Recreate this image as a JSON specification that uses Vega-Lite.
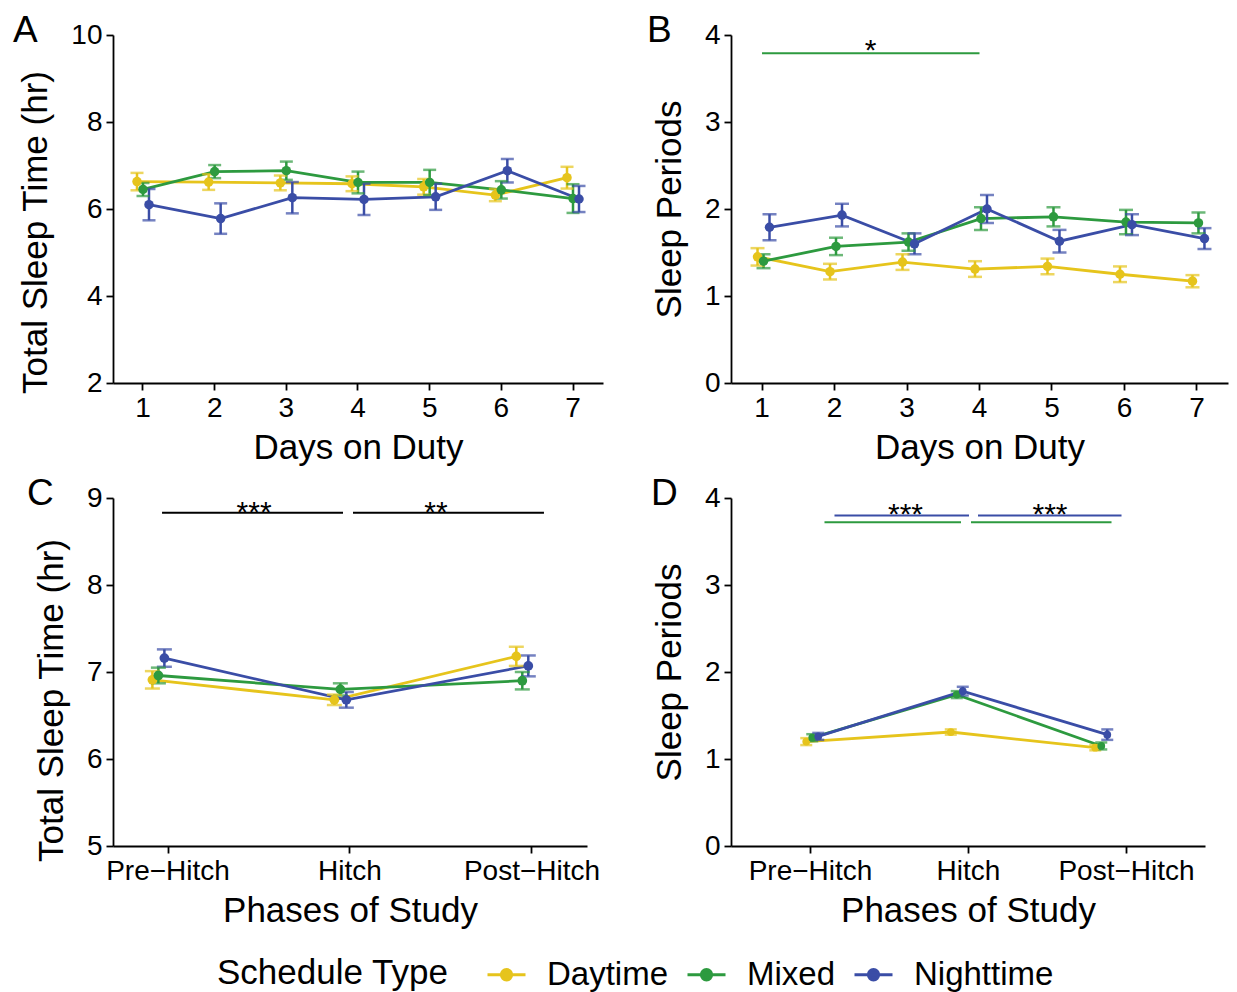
{
  "$schema": "https://vega.github.io/schema/vega-lite/v6.json",
  "padding": {"left": 13, "top": 12, "right": 5, "bottom": 2},
  "background": "white",
  "bounds": "flush",
  "columns": 2,
  "spacing": {"row": 115, "column": 128},
  "datasets": {
    "A": [
      {"day": 1, "type": "Daytime", "mean": 6.63, "lower": 6.43, "upper": 6.83},
      {"day": 2, "type": "Daytime", "mean": 6.62, "lower": 6.44, "upper": 6.80},
      {"day": 3, "type": "Daytime", "mean": 6.60, "lower": 6.43, "upper": 6.77},
      {"day": 4, "type": "Daytime", "mean": 6.58, "lower": 6.41, "upper": 6.75},
      {"day": 5, "type": "Daytime", "mean": 6.51, "lower": 6.33, "upper": 6.69},
      {"day": 6, "type": "Daytime", "mean": 6.32, "lower": 6.18, "upper": 6.46},
      {"day": 7, "type": "Daytime", "mean": 6.72, "lower": 6.47, "upper": 6.97},
      {"day": 1, "type": "Mixed", "mean": 6.45, "lower": 6.30, "upper": 6.60},
      {"day": 2, "type": "Mixed", "mean": 6.86, "lower": 6.71, "upper": 7.01},
      {"day": 3, "type": "Mixed", "mean": 6.88, "lower": 6.67, "upper": 7.09},
      {"day": 4, "type": "Mixed", "mean": 6.61, "lower": 6.36, "upper": 6.86},
      {"day": 5, "type": "Mixed", "mean": 6.61, "lower": 6.32, "upper": 6.90},
      {"day": 6, "type": "Mixed", "mean": 6.44, "lower": 6.24, "upper": 6.64},
      {"day": 7, "type": "Mixed", "mean": 6.24, "lower": 5.91, "upper": 6.57},
      {"day": 1, "type": "Nighttime", "mean": 6.10, "lower": 5.74, "upper": 6.46},
      {"day": 2, "type": "Nighttime", "mean": 5.78, "lower": 5.43, "upper": 6.13},
      {"day": 3, "type": "Nighttime", "mean": 6.26, "lower": 5.90, "upper": 6.62},
      {"day": 4, "type": "Nighttime", "mean": 6.22, "lower": 5.86, "upper": 6.58},
      {"day": 5, "type": "Nighttime", "mean": 6.28, "lower": 5.98, "upper": 6.58},
      {"day": 6, "type": "Nighttime", "mean": 6.88, "lower": 6.61, "upper": 7.15},
      {"day": 7, "type": "Nighttime", "mean": 6.23, "lower": 5.93, "upper": 6.53}
    ],
    "B": [
      {"day": 1, "type": "Daytime", "mean": 1.45, "lower": 1.35, "upper": 1.55},
      {"day": 2, "type": "Daytime", "mean": 1.28, "lower": 1.19, "upper": 1.37},
      {"day": 3, "type": "Daytime", "mean": 1.39, "lower": 1.30, "upper": 1.48},
      {"day": 4, "type": "Daytime", "mean": 1.31, "lower": 1.22, "upper": 1.40},
      {"day": 5, "type": "Daytime", "mean": 1.34, "lower": 1.25, "upper": 1.43},
      {"day": 6, "type": "Daytime", "mean": 1.25, "lower": 1.16, "upper": 1.34},
      {"day": 7, "type": "Daytime", "mean": 1.17, "lower": 1.10, "upper": 1.24},
      {"day": 1, "type": "Mixed", "mean": 1.40, "lower": 1.32, "upper": 1.48},
      {"day": 2, "type": "Mixed", "mean": 1.57, "lower": 1.47, "upper": 1.67},
      {"day": 3, "type": "Mixed", "mean": 1.62, "lower": 1.52, "upper": 1.72},
      {"day": 4, "type": "Mixed", "mean": 1.89, "lower": 1.76, "upper": 2.02},
      {"day": 5, "type": "Mixed", "mean": 1.91, "lower": 1.80, "upper": 2.02},
      {"day": 6, "type": "Mixed", "mean": 1.85, "lower": 1.71, "upper": 1.99},
      {"day": 7, "type": "Mixed", "mean": 1.84, "lower": 1.72, "upper": 1.96},
      {"day": 1, "type": "Nighttime", "mean": 1.79, "lower": 1.64, "upper": 1.94},
      {"day": 2, "type": "Nighttime", "mean": 1.93, "lower": 1.80, "upper": 2.06},
      {"day": 3, "type": "Nighttime", "mean": 1.60, "lower": 1.48, "upper": 1.72},
      {"day": 4, "type": "Nighttime", "mean": 2.00, "lower": 1.84, "upper": 2.16},
      {"day": 5, "type": "Nighttime", "mean": 1.63, "lower": 1.50, "upper": 1.76},
      {"day": 6, "type": "Nighttime", "mean": 1.82, "lower": 1.70, "upper": 1.94},
      {"day": 7, "type": "Nighttime", "mean": 1.66, "lower": 1.54, "upper": 1.78}
    ],
    "C": [
      {"phase": "Pre−Hitch", "type": "Daytime", "mean": 6.91, "lower": 6.81, "upper": 7.01},
      {"phase": "Hitch", "type": "Daytime", "mean": 6.68, "lower": 6.62, "upper": 6.74},
      {"phase": "Post−Hitch", "type": "Daytime", "mean": 7.18, "lower": 7.07, "upper": 7.29},
      {"phase": "Pre−Hitch", "type": "Mixed", "mean": 6.96, "lower": 6.87, "upper": 7.05},
      {"phase": "Hitch", "type": "Mixed", "mean": 6.80, "lower": 6.73, "upper": 6.87},
      {"phase": "Post−Hitch", "type": "Mixed", "mean": 6.90, "lower": 6.80, "upper": 7.00},
      {"phase": "Pre−Hitch", "type": "Nighttime", "mean": 7.16, "lower": 7.06, "upper": 7.26},
      {"phase": "Hitch", "type": "Nighttime", "mean": 6.68, "lower": 6.59, "upper": 6.77},
      {"phase": "Post−Hitch", "type": "Nighttime", "mean": 7.07, "lower": 6.95, "upper": 7.19}
    ],
    "D": [
      {"phase": "Pre−Hitch", "type": "Daytime", "mean": 1.20, "lower": 1.16, "upper": 1.24},
      {"phase": "Hitch", "type": "Daytime", "mean": 1.31, "lower": 1.28, "upper": 1.34},
      {"phase": "Post−Hitch", "type": "Daytime", "mean": 1.13, "lower": 1.10, "upper": 1.16},
      {"phase": "Pre−Hitch", "type": "Mixed", "mean": 1.245, "lower": 1.205, "upper": 1.285},
      {"phase": "Hitch", "type": "Mixed", "mean": 1.74, "lower": 1.70, "upper": 1.78},
      {"phase": "Post−Hitch", "type": "Mixed", "mean": 1.15, "lower": 1.11, "upper": 1.19},
      {"phase": "Pre−Hitch", "type": "Nighttime", "mean": 1.26, "lower": 1.22, "upper": 1.30},
      {"phase": "Hitch", "type": "Nighttime", "mean": 1.78, "lower": 1.73, "upper": 1.83},
      {"phase": "Post−Hitch", "type": "Nighttime", "mean": 1.28, "lower": 1.22, "upper": 1.34}
    ],
    "sigB": [
      {"from": 1, "to": 4, "mid": 2, "y": 3.79, "label": "*"}
    ],
    "sigC": [
      {"from": "Pre−Hitch", "to": "Hitch", "y": 8.83, "label": "***", "seg": 1},
      {"from": "Hitch", "to": "Post−Hitch", "y": 8.83, "label": "**", "seg": 2}
    ],
    "sigD": [
      {"type": "Nighttime", "from": "Pre−Hitch", "to": "Hitch", "y": 3.80, "seg": 1, "label": "***"},
      {"type": "Nighttime", "from": "Hitch", "to": "Post−Hitch", "y": 3.80, "seg": 2, "label": "***"},
      {"type": "Mixed", "from": "Pre−Hitch", "to": "Hitch", "y": 3.72, "seg": 1, "label": ""},
      {"type": "Mixed", "from": "Hitch", "to": "Post−Hitch", "y": 3.72, "seg": 2, "label": ""}
    ]
  },
  "concat": [
    {
      "width": 490,
      "height": 348,
      "title": {"text": "A", "anchor": "start", "frame": "group", "align": "left", "baseline": "alphabetic", "dx": -100, "dy": 58, "offset": 0, "fontSize": 37, "fontWeight": "normal", "font": "Liberation Sans", "color": "#000"},
      "data": {"name": "A"},
      "encoding": {
        "x": {"field": "day", "type": "ordinal", "title": "Days on Duty", "scale": {"paddingInner": 0.749, "paddingOuter": 0.293}, "axis": {"labelAngle": 0}},
        "xOffset": {"field": "type", "type": "nominal", "scale": {"domain": ["Daytime", "Mixed", "Nighttime"], "paddingInner": 0, "paddingOuter": 0}},
        "color": {"field": "type", "type": "nominal", "title": "Schedule Type", "scale": {"domain": ["Daytime", "Mixed", "Nighttime"], "range": ["#E6C41C", "#2D9A3F", "#3A4DA6"]},
          "legend": {"encode": {"symbols": {"update": {"fill": {"scale": "color", "field": "value"}, "stroke": {"scale": "color", "field": "value"}, "strokeWidth": {"value": 3}, "opacity": {"value": 1}}}}}}
      },
      "layer": [
        {"mark": {"type": "line", "strokeWidth": 2.8}, "encoding": {"y": {"field": "mean", "type": "quantitative", "title": "Total Sleep Time (hr)", "scale": {"domain": [2, 10], "nice": false, "zero": false}, "axis": {"values": [2, 4, 6, 8, 10], "format": "d", "titleY": 197}}}},
        {"mark": {"type": "rule", "strokeWidth": 2.5}, "encoding": {"y": {"field": "lower", "type": "quantitative", "title": "Total Sleep Time (hr)"}, "y2": {"field": "upper", "title": "Total Sleep Time (hr)"}}},
        {"mark": {"type": "tick", "orient": "horizontal", "size": 13, "thickness": 2.5}, "encoding": {"y": {"field": "lower", "type": "quantitative", "title": "Total Sleep Time (hr)"}}},
        {"mark": {"type": "tick", "orient": "horizontal", "size": 13, "thickness": 2.5}, "encoding": {"y": {"field": "upper", "type": "quantitative", "title": "Total Sleep Time (hr)"}}},
        {"mark": {"type": "point", "filled": true, "size": 90, "opacity": 1}, "encoding": {"y": {"field": "mean", "type": "quantitative", "title": "Total Sleep Time (hr)"}}}
      ]
    },
    {
      "width": 497,
      "height": 348,
      "title": {"text": "B", "anchor": "start", "frame": "group", "align": "left", "baseline": "alphabetic", "dx": -84, "dy": 58, "offset": 0, "fontSize": 37, "fontWeight": "normal", "font": "Liberation Sans", "color": "#000"},
      "layer": [
        {
          "data": {"name": "B"},
          "encoding": {
            "x": {"field": "day", "type": "ordinal", "title": "Days on Duty", "scale": {"paddingInner": 0.793, "paddingOuter": 0.3245}, "axis": {"labelAngle": 0}},
            "xOffset": {"field": "type", "type": "nominal", "scale": {"domain": ["Daytime", "Mixed", "Nighttime"], "paddingInner": 0, "paddingOuter": 0}},
            "color": {"field": "type", "type": "nominal", "title": "Schedule Type", "scale": {"domain": ["Daytime", "Mixed", "Nighttime"], "range": ["#E6C41C", "#2D9A3F", "#3A4DA6"]},
              "legend": {"encode": {"symbols": {"update": {"fill": {"scale": "color", "field": "value"}, "stroke": {"scale": "color", "field": "value"}, "strokeWidth": {"value": 3}, "opacity": {"value": 1}}}}}}
          },
          "layer": [
            {"mark": {"type": "line", "strokeWidth": 2.8}, "encoding": {"y": {"field": "mean", "type": "quantitative", "title": "Sleep Periods", "scale": {"domain": [0, 4], "nice": false, "zero": false}, "axis": {"values": [0, 1, 2, 3, 4], "format": "d"}}}},
            {"mark": {"type": "rule", "strokeWidth": 2.5}, "encoding": {"y": {"field": "lower", "type": "quantitative", "title": "Sleep Periods"}, "y2": {"field": "upper", "title": "Sleep Periods"}}},
            {"mark": {"type": "tick", "orient": "horizontal", "size": 14, "thickness": 2.5}, "encoding": {"y": {"field": "lower", "type": "quantitative", "title": "Sleep Periods"}}},
            {"mark": {"type": "tick", "orient": "horizontal", "size": 14, "thickness": 2.5}, "encoding": {"y": {"field": "upper", "type": "quantitative", "title": "Sleep Periods"}}},
            {"mark": {"type": "point", "filled": true, "size": 90, "opacity": 1}, "encoding": {"y": {"field": "mean", "type": "quantitative", "title": "Sleep Periods"}}}
          ]
        },
        {
          "data": {"name": "sigB"},
          "mark": {"type": "rule", "stroke": "#2D9A3F", "strokeWidth": 2},
          "encoding": {
            "x": {"field": "from", "type": "ordinal", "title": "Days on Duty", "bandPosition": 0.5},
            "x2": {"field": "to", "bandPosition": 0.5},
            "y": {"field": "y", "type": "quantitative", "title": "Sleep Periods"}
          }
        },
        {
          "data": {"name": "sigB"},
          "mark": {"type": "text", "font": "Liberation Sans", "fontSize": 30, "dx": 36, "dy": 7, "baseline": "alphabetic", "align": "center", "color": "#000"},
          "encoding": {
            "x": {"field": "mid", "type": "ordinal", "title": "Days on Duty"},
            "y": {"field": "y", "type": "quantitative", "title": "Sleep Periods"},
            "text": {"field": "label"}
          }
        }
      ]
    },
    {
      "width": 474,
      "height": 348,
      "title": {"text": "C", "anchor": "start", "frame": "group", "align": "left", "baseline": "alphabetic", "dx": -86, "dy": 58, "offset": 0, "fontSize": 37, "fontWeight": "normal", "font": "Liberation Sans", "color": "#000"},
      "layer": [
        {
          "data": {"name": "C"},
          "encoding": {
            "x": {"field": "phase", "type": "ordinal", "title": "Phases of Study", "scale": {"domain": ["Pre−Hitch", "Hitch", "Post−Hitch"], "paddingInner": 0.795, "paddingOuter": 0.2}, "axis": {"labelAngle": 0}},
            "xOffset": {"field": "type", "type": "nominal", "scale": {"domain": ["Daytime", "Mixed", "Nighttime"], "paddingInner": 0, "paddingOuter": 0}},
            "color": {"field": "type", "type": "nominal", "title": "Schedule Type", "scale": {"domain": ["Daytime", "Mixed", "Nighttime"], "range": ["#E6C41C", "#2D9A3F", "#3A4DA6"]},
              "legend": {"encode": {"symbols": {"update": {"fill": {"scale": "color", "field": "value"}, "stroke": {"scale": "color", "field": "value"}, "strokeWidth": {"value": 3}, "opacity": {"value": 1}}}}}}
          },
          "layer": [
            {"mark": {"type": "line", "strokeWidth": 2.8}, "encoding": {"y": {"field": "mean", "type": "quantitative", "title": "Total Sleep Time (hr)", "scale": {"domain": [5, 9], "nice": false, "zero": false}, "axis": {"values": [5, 6, 7, 8, 9], "format": "d", "titleY": 202}}}},
            {"mark": {"type": "rule", "strokeWidth": 2.5}, "encoding": {"y": {"field": "lower", "type": "quantitative", "title": "Total Sleep Time (hr)"}, "y2": {"field": "upper", "title": "Total Sleep Time (hr)"}}},
            {"mark": {"type": "tick", "orient": "horizontal", "size": 15, "thickness": 2.5}, "encoding": {"y": {"field": "lower", "type": "quantitative", "title": "Total Sleep Time (hr)"}}},
            {"mark": {"type": "tick", "orient": "horizontal", "size": 15, "thickness": 2.5}, "encoding": {"y": {"field": "upper", "type": "quantitative", "title": "Total Sleep Time (hr)"}}},
            {"mark": {"type": "point", "filled": true, "size": 95, "opacity": 1}, "encoding": {"y": {"field": "mean", "type": "quantitative", "title": "Total Sleep Time (hr)"}}}
          ]
        },
        {
          "data": {"name": "sigC"},
          "transform": [{"filter": "datum.seg == 1"}],
          "mark": {"type": "rule", "stroke": "#000", "strokeWidth": 2, "xOffset": -6, "x2Offset": -7},
          "encoding": {
            "x": {"field": "from", "type": "ordinal", "title": "Phases of Study", "bandPosition": 0.5},
            "x2": {"field": "to", "bandPosition": 0.5},
            "y": {"field": "y", "type": "quantitative", "title": "Total Sleep Time (hr)"}
          }
        },
        {
          "data": {"name": "sigC"},
          "transform": [{"filter": "datum.seg == 2"}],
          "mark": {"type": "rule", "stroke": "#000", "strokeWidth": 2, "xOffset": 3, "x2Offset": 12},
          "encoding": {
            "x": {"field": "from", "type": "ordinal", "title": "Phases of Study", "bandPosition": 0.5},
            "x2": {"field": "to", "bandPosition": 0.5},
            "y": {"field": "y", "type": "quantitative", "title": "Total Sleep Time (hr)"}
          }
        },
        {
          "data": {"name": "sigC"},
          "mark": {"type": "text", "font": "Liberation Sans", "fontSize": 30, "dx": 86, "dy": 9, "baseline": "alphabetic", "align": "center", "color": "#000"},
          "encoding": {
            "x": {"field": "from", "type": "ordinal", "title": "Phases of Study"},
            "y": {"field": "y", "type": "quantitative", "title": "Total Sleep Time (hr)"},
            "text": {"field": "label"}
          }
        }
      ]
    },
    {
      "width": 474,
      "height": 348,
      "title": {"text": "D", "anchor": "start", "frame": "group", "align": "left", "baseline": "alphabetic", "dx": -80, "dy": 58, "offset": 0, "fontSize": 37, "fontWeight": "normal", "font": "Liberation Sans", "color": "#000"},
      "resolve": {"scale": {"x": "independent"}, "axis": {"x": "independent"}},
      "layer": [
        {
          "data": {"name": "D"},
          "mark": {"type": "point", "opacity": 0},
          "encoding": {
            "x": {"field": "phase", "type": "ordinal", "title": "Phases of Study", "scale": {"domain": ["Pre−Hitch", "Hitch", "Post−Hitch"], "paddingInner": 0.5, "paddingOuter": 0.0667}, "axis": {"labelAngle": 0}},
            "y": {"field": "mean", "type": "quantitative", "title": "Sleep Periods", "scale": {"domain": [0, 4], "nice": false, "zero": false}, "axis": {"values": [0, 1, 2, 3, 4], "format": "d"}}
          }
        },
        {
          "layer": [
            {
              "data": {"name": "D"},
              "encoding": {
                "x": {"field": "phase", "type": "ordinal", "title": "Phases of Study", "scale": {"domain": ["Pre−Hitch", "Hitch", "Post−Hitch"], "paddingInner": 0.72, "paddingOuter": 0.5}, "axis": null},
                "xOffset": {"field": "type", "type": "nominal", "scale": {"domain": ["Daytime", "Mixed", "Nighttime"], "paddingInner": 0, "paddingOuter": 0}},
                "color": {"field": "type", "type": "nominal", "title": "Schedule Type", "scale": {"domain": ["Daytime", "Mixed", "Nighttime"], "range": ["#E6C41C", "#2D9A3F", "#3A4DA6"]},
                  "legend": {"encode": {"symbols": {"update": {"fill": {"scale": "color", "field": "value"}, "stroke": {"scale": "color", "field": "value"}, "strokeWidth": {"value": 3}, "opacity": {"value": 1}}}}}}
              },
              "layer": [
                {"mark": {"type": "line", "strokeWidth": 2.8}, "encoding": {"y": {"field": "mean", "type": "quantitative", "title": "Sleep Periods"}}},
                {"mark": {"type": "rule", "strokeWidth": 2.5}, "encoding": {"y": {"field": "lower", "type": "quantitative", "title": "Sleep Periods"}, "y2": {"field": "upper", "title": "Sleep Periods"}}},
                {"mark": {"type": "tick", "orient": "horizontal", "size": 12, "thickness": 2.5}, "encoding": {"y": {"field": "lower", "type": "quantitative", "title": "Sleep Periods"}}},
                {"mark": {"type": "tick", "orient": "horizontal", "size": 12, "thickness": 2.5}, "encoding": {"y": {"field": "upper", "type": "quantitative", "title": "Sleep Periods"}}},
                {"mark": {"type": "point", "filled": true, "size": 60, "opacity": 1}, "encoding": {"y": {"field": "mean", "type": "quantitative", "title": "Sleep Periods"}}}
              ]
            },
            {
              "data": {"name": "sigD"},
              "transform": [{"filter": "datum.type == 'Nighttime' && datum.seg == 1"}],
              "mark": {"type": "rule", "stroke": "#3A4DA6", "strokeWidth": 2, "xOffset": 11, "x2Offset": 1},
              "encoding": {
                "x": {"field": "from", "type": "ordinal", "axis": null, "bandPosition": 0.5},
                "x2": {"field": "to", "bandPosition": 0.5},
                "y": {"field": "y", "type": "quantitative", "title": "Sleep Periods"}
              }
            },
            {
              "data": {"name": "sigD"},
              "transform": [{"filter": "datum.type == 'Nighttime' && datum.seg == 2"}],
              "mark": {"type": "rule", "stroke": "#3A4DA6", "strokeWidth": 2, "xOffset": 10, "x2Offset": 9},
              "encoding": {
                "x": {"field": "from", "type": "ordinal", "axis": null, "bandPosition": 0.5},
                "x2": {"field": "to", "bandPosition": 0.5},
                "y": {"field": "y", "type": "quantitative", "title": "Sleep Periods"}
              }
            },
            {
              "data": {"name": "sigD"},
              "transform": [{"filter": "datum.type == 'Mixed' && datum.seg == 1"}],
              "mark": {"type": "rule", "stroke": "#2D9A3F", "strokeWidth": 2, "xOffset": 1, "x2Offset": -7},
              "encoding": {
                "x": {"field": "from", "type": "ordinal", "axis": null, "bandPosition": 0.5},
                "x2": {"field": "to", "bandPosition": 0.5},
                "y": {"field": "y", "type": "quantitative", "title": "Sleep Periods"}
              }
            },
            {
              "data": {"name": "sigD"},
              "transform": [{"filter": "datum.type == 'Mixed' && datum.seg == 2"}],
              "mark": {"type": "rule", "stroke": "#2D9A3F", "strokeWidth": 2, "xOffset": 3, "x2Offset": -1},
              "encoding": {
                "x": {"field": "from", "type": "ordinal", "axis": null, "bandPosition": 0.5},
                "x2": {"field": "to", "bandPosition": 0.5},
                "y": {"field": "y", "type": "quantitative", "title": "Sleep Periods"}
              }
            },
            {
              "data": {"name": "sigD"},
              "transform": [{"filter": "datum.type == 'Nighttime'"}],
              "mark": {"type": "text", "font": "Liberation Sans", "fontSize": 30, "dx": 82, "dy": 9, "baseline": "alphabetic", "align": "center", "color": "#000"},
              "encoding": {
                "x": {"field": "from", "type": "ordinal", "axis": null},
                "y": {"field": "y", "type": "quantitative", "title": "Sleep Periods"},
                "text": {"field": "label"}
              }
            }
          ]
        }
      ]
    }
  ],
  "config": {
    "font": "Liberation Sans",
    "view": {"stroke": null},
    "axis": {
      "grid": false,
      "domainColor": "#000",
      "domainWidth": 1.8,
      "tickColor": "#000",
      "tickWidth": 1.8,
      "tickSize": 7,
      "labelFont": "Liberation Sans",
      "labelFontSize": 28,
      "labelColor": "#000",
      "labelPadding": 4,
      "titleFont": "Liberation Sans",
      "titleFontSize": 35,
      "titleFontWeight": "normal",
      "titleColor": "#000"
    },
    "axisX": {"titlePadding": 8},
    "axisY": {"titlePadding": 17},
    "legend": {
      "orient": "none",
      "legendX": 104,
      "legendY": 919,
      "direction": "horizontal",
      "titleOrient": "left",
      "titleFont": "Liberation Sans",
      "titleFontSize": 35,
      "titleFontWeight": "normal",
      "titleColor": "#000",
      "titleLimit": 500,
      "titlePadding": 37,
      "labelFont": "Liberation Sans",
      "labelFontSize": 33,
      "labelColor": "#000",
      "labelOffset": 20,
      "columnPadding": 12,
      "symbolType": "M-1,0L1,0M-0.27,0A0.27,0.27,0,1,0,0.27,0A0.27,0.27,0,1,0,-0.27,0Z",
      "symbolSize": 1444,
      "symbolStrokeWidth": 3
    }
  }
}
